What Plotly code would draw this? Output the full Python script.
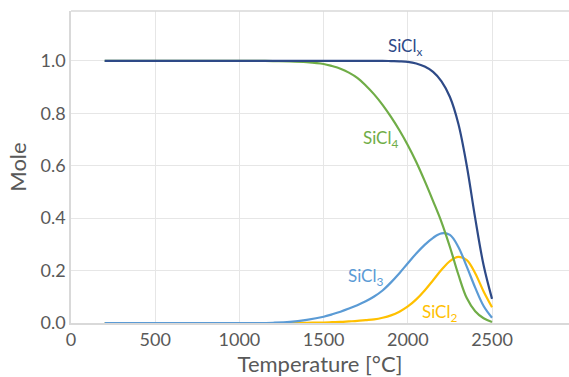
import plotly.graph_objects as go

temperature = [200, 1000, 1100, 1200, 1300, 1400,
               1500, 1550, 1600, 1650, 1700, 1750, 1800, 1850, 1900, 1950,
               2000, 2050, 2100, 2150, 2200, 2250, 2300, 2350, 2400, 2450, 2500]

sicl_x = [1.0, 1.0, 1.0, 1.0, 1.0, 1.0,
          1.0, 1.0, 1.0, 1.0, 1.0, 1.0, 1.0, 1.0, 0.999, 0.998,
          0.996, 0.99, 0.978, 0.958, 0.922, 0.862, 0.76, 0.60, 0.40, 0.22, 0.092]
sicl_4 = [1.0, 1.0, 1.0, 0.999, 0.998, 0.995,
          0.988, 0.98, 0.97, 0.955, 0.935, 0.906, 0.872, 0.832, 0.786, 0.735,
          0.678, 0.614, 0.542, 0.465, 0.385, 0.29, 0.185, 0.095, 0.045, 0.018, 0.004]
sicl_3 = [0.0, 0.0, 0.0, 0.001, 0.004, 0.012,
          0.024, 0.033, 0.043, 0.055, 0.068, 0.083, 0.101, 0.124, 0.155, 0.19,
          0.228, 0.265, 0.298, 0.325, 0.342, 0.336, 0.29, 0.215, 0.135, 0.065, 0.02]
sicl_2 = [0.0, 0.0, 0.0, 0.0, 0.0, 0.001,
          0.002, 0.003, 0.004, 0.006, 0.008, 0.011, 0.014, 0.02, 0.029, 0.043,
          0.063, 0.09, 0.124, 0.163, 0.203, 0.236, 0.252, 0.24, 0.19, 0.12, 0.06]

series = [
    ("SiCl<sub>2</sub>", sicl_2, "#FFC000", 2191, 0.04),
    ("SiCl<sub>3</sub>", sicl_3, "#5B9BD5", 1746, 0.176),
    ("SiCl<sub>4</sub>", sicl_4, "#70AD47", 1835, 0.70),
    ("SiCl<sub>x</sub>", sicl_x, "#2E4A87", 1983, 1.053),
]

fig = go.Figure()
annotations = []
for name, ys, color, lx, ly in series:
    fig.add_trace(go.Scatter(x=temperature, y=ys, mode="lines", name=name,
                             line=dict(color=color, width=2.2, shape="spline", smoothing=1.0)))
    annotations.append(dict(x=lx, y=ly, text=name, showarrow=False,
                            font=dict(family="Lato", size=17, color=color)))

fig.update_layout(
    width=569, height=377,
    margin=dict(l=71, r=0, t=11, b=54),
    paper_bgcolor="white", plot_bgcolor="white",
    showlegend=False,
    font=dict(family="Lato", size=18, color="#595959"),
    annotations=annotations,
    shapes=[dict(type="line", xref="paper", yref="paper", x0=0, x1=1, y0=1, y1=1,
                 line=dict(color="#D9D9D9", width=1.5))],
)
fig.update_xaxes(range=[0, 2957], tickvals=[0, 500, 1000, 1500, 2000, 2500],
                 showgrid=True, gridcolor="#E6E6E6", gridwidth=1,
                 showline=True, linecolor="#D9D9D9", linewidth=1.5,
                 zeroline=False, ticks="", tickfont=dict(size=18, color="#595959"),
                 title=dict(text="Temperature [°C]", font=dict(size=22, color="#595959"), standoff=6))
fig.update_yaxes(range=[0, 1.19], tickvals=[0, 0.2, 0.4, 0.6, 0.8, 1.0], tickformat=".1f",
                 showgrid=True, gridcolor="#E6E6E6", gridwidth=1,
                 showline=True, linecolor="#D9D9D9", linewidth=1.5,
                 zeroline=False, ticks="", tickfont=dict(size=18, color="#595959"),
                 title=dict(text="Mole", font=dict(size=22, color="#595959"), standoff=8))

fig.write_html("out.html")
